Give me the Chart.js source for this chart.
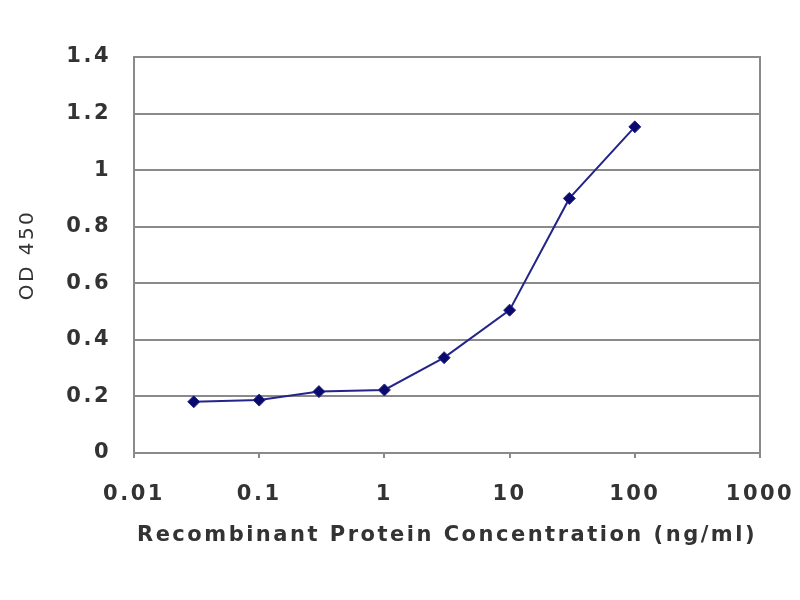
<!DOCTYPE html>
<html>
<head>
<meta charset="utf-8">
<script src="https://cdn.jsdelivr.net/npm/chart.js@4"></script>
<style>
  html, body { margin: 0; padding: 0; background: #fff; }
  #wrap { width: 800px; height: 600px; }
</style>
</head>
<body>
<div id="wrap"><canvas id="chart" width="800" height="600"></canvas></div>
<script>
// data
const concentrations = [0.03, 0.1, 0.3, 1, 3, 10, 30, 100];
const odValues = [0.181, 0.187, 0.217, 0.223, 0.337, 0.505, 0.900, 1.153];
const xTicks = [0.01, 0.1, 1, 10, 100, 1000];
const yTicks = [0, 0.2, 0.4, 0.6, 0.8, 1, 1.2, 1.4];

const labelFont = { family: 'DejaVu Sans', size: 21, weight: 'bold' };

// wide lettering like the original
const spacing = {
    id: 'spacing',
    beforeLayout(chart) { chart.ctx.letterSpacing = '2.5px'; },
    beforeDraw(chart) { chart.ctx.letterSpacing = '2.5px'; }
};

// box around the plot area
const frame = {
    id: 'frame',
    afterDraw(chart) {
        const a = chart.chartArea;
        const c = chart.ctx;
        c.save();
        c.strokeStyle = '#8a8a8a';
        c.lineWidth = 2;
        c.strokeRect(a.left, a.top, a.right - a.left, a.bottom - a.top);
        c.restore();
    }
};

document.addEventListener('DOMContentLoaded', function () {
    const ctx = document.getElementById('chart').getContext('2d');
    new Chart(ctx, {
        type: 'line',
        data: {
            datasets: [{
                data: concentrations.map((x, i) => ({ x: x, y: odValues[i] })),
                borderColor: '#24248a',
                backgroundColor: '#0a0a6e',
                borderWidth: 2,
                pointStyle: 'rectRot',
                pointRadius: 6,
                pointBorderWidth: 1,
                tension: 0
            }]
        },
        options: {
            responsive: false,
            animation: false,
            layout: { padding: { top: 57, right: 0, left: 0, bottom: 50 } },
            plugins: { legend: { display: false }, tooltip: { enabled: false } },
            scales: {
                x: {
                    type: 'logarithmic',
                    min: 0.01,
                    max: 1000,
                    afterBuildTicks: function (scale) {
                        scale.ticks = xTicks.map(v => ({ value: v }));
                    },
                    afterFit: function (scale) {
                        scale.height = 97;
                        scale.paddingRight = 40;
                    },
                    grid: { drawOnChartArea: false, drawTicks: true, tickLength: 5, color: '#8a8a8a', lineWidth: 2 },
                    border: { display: false },
                    ticks: {
                        autoSkip: false,
                        maxRotation: 0,
                        padding: 24,
                        color: '#333',
                        font: labelFont,
                        callback: function (value) { return String(value); }
                    },
                    title: {
                        display: true,
                        text: 'Recombinant Protein Concentration (ng/ml)',
                        color: '#333',
                        font: labelFont,
                        padding: { top: 0, bottom: 2 }
                    }
                },
                y: {
                    min: 0,
                    max: 1.4,
                    afterBuildTicks: function (scale) {
                        scale.ticks = yTicks.map(v => ({ value: v }));
                    },
                    afterFit: function (scale) { scale.width = 134; },
                    grid: { color: '#8a8a8a', lineWidth: 2, drawTicks: false },
                    border: { display: false },
                    ticks: {
                        padding: 23,
                        color: '#333',
                        font: labelFont,
                        callback: function (value) { return String(value); }
                    },
                    title: {
                        display: true,
                        text: 'OD 450',
                        color: '#333',
                        font: { family: 'DejaVu Sans', size: 20 },
                        padding: { bottom: 0, top: 16 }
                    }
                }
            }
        },
        plugins: [spacing, frame]
    });
});
</script>
</body>
</html>
